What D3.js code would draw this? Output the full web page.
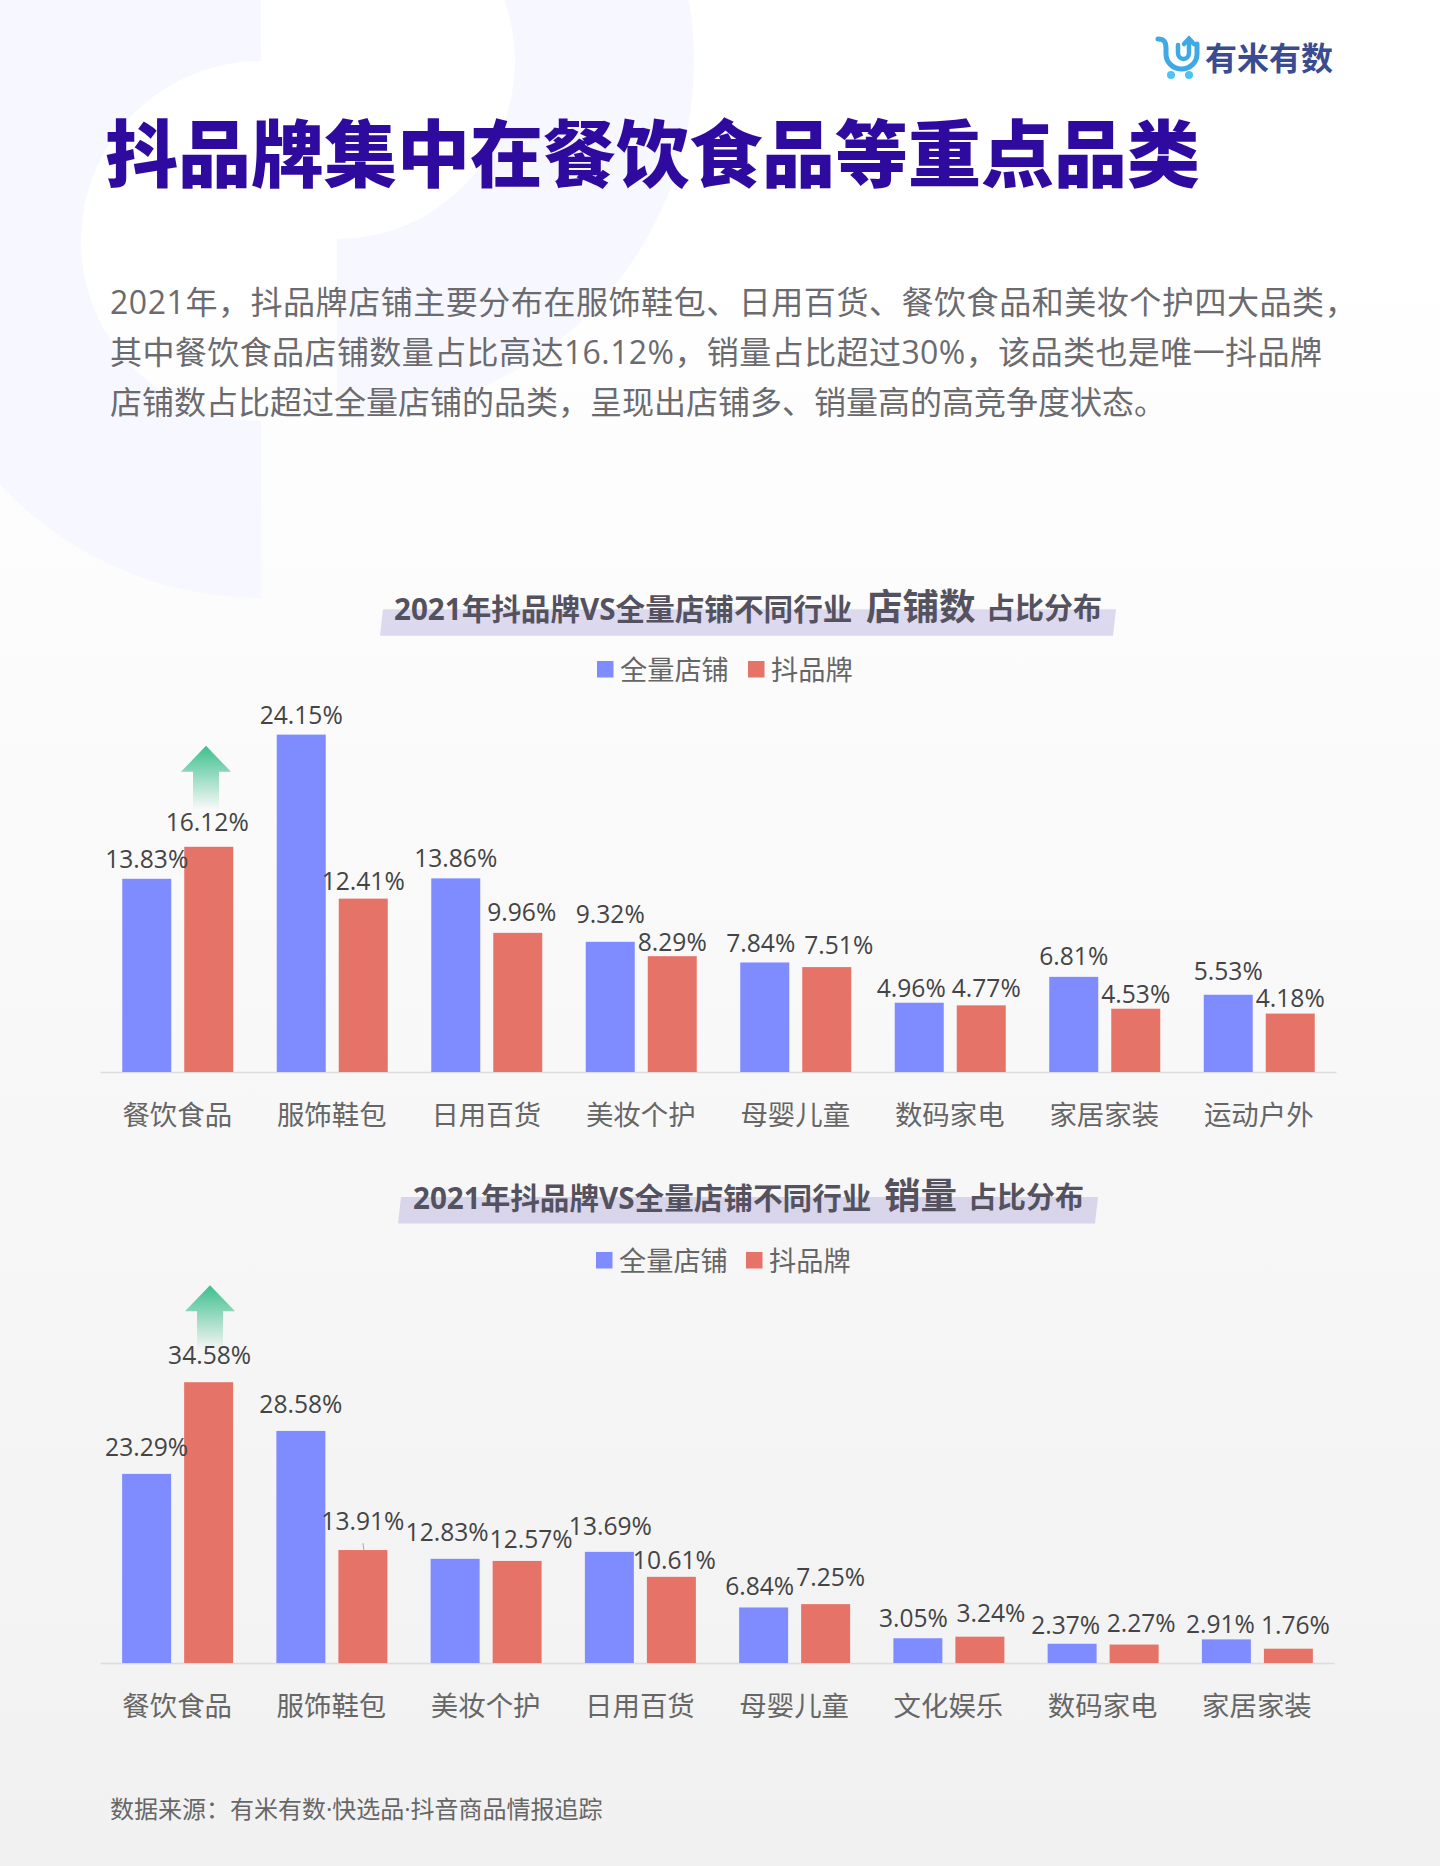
<!DOCTYPE html>
<html lang="zh-CN">
<head>
<meta charset="utf-8">
<title>抖品牌集中在餐饮食品等重点品类</title>
<script src="https://cdn.jsdelivr.net/npm/d3@7"></script>
<style>
  html, body { margin: 0; padding: 0; background: #fff; }
  svg { display: block; }
  text { font-family: "Open Sans", "Noto Sans CJK SC", sans-serif; }
</style>
</head>
<body>
<svg id="page" width="1440" height="1866"></svg>
<script>
// data
const seriesNames = ["全量店铺", "抖品牌"];

const storeCategories = ["餐饮食品", "服饰鞋包", "日用百货", "美妆个护", "母婴儿童", "数码家电", "家居家装", "运动户外"];
const storeAll = [13.83, 24.15, 13.86, 9.32, 7.84, 4.96, 6.81, 5.53];
const storeDouyin = [16.12, 12.41, 9.96, 8.29, 7.51, 4.77, 4.53, 4.18];

const salesCategories = ["餐饮食品", "服饰鞋包", "美妆个护", "日用百货", "母婴儿童", "文化娱乐", "数码家电", "家居家装"];
const salesAll = [23.29, 28.58, 12.83, 13.69, 6.84, 3.05, 2.37, 2.91];
const salesDouyin = [34.58, 13.91, 12.57, 10.61, 7.25, 3.24, 2.27, 1.76];

const bodyLines = [
  "2021年，抖品牌店铺主要分布在服饰鞋包、日用百货、餐饮食品和美妆个护四大品类，",
  "其中餐饮食品店铺数量占比高达16.12%，销量占比超过30%，该品类也是唯一抖品牌",
  "店铺数占比超过全量店铺的品类，呈现出店铺多、销量高的高竞争度状态。"
];
const bodySpacing = [0.55, 0.42, 0];

const colors = ["#7f8cff", "#e57368"];
const svg = d3.select("#page");
const defs = svg.append("defs");

// page background
const bg = defs.append("linearGradient").attr("id", "bg").attr("x1", 0).attr("x2", 0).attr("y1", 0).attr("y2", 1);
bg.append("stop").attr("offset", "0.12").attr("stop-color", "#ffffff");
bg.append("stop").attr("offset", "1").attr("stop-color", "#f1f1f1");
svg.append("rect").attr("width", 1440).attr("height", 1866).attr("fill", "url(#bg)");

// big pale half rings behind the title
svg.append("path")
  .attr("d", d3.arc().innerRadius(180).outerRadius(357)({ startAngle: Math.PI, endAngle: 2 * Math.PI }))
  .attr("transform", "translate(261,241)")
  .attr("fill", "#f7f8ff");
svg.append("path")
  .attr("d", d3.arc().innerRadius(178).outerRadius(357)({ startAngle: 0, endAngle: Math.PI }))
  .attr("transform", "translate(337,61)")
  .attr("fill", "#f7f8ff");

// logo
const logo = svg.append("g").attr("fill", "none").attr("stroke", "#3fa9e6").attr("stroke-width", 5).attr("stroke-linecap", "round");
logo.append("path").attr("d", "M1158 39 C1164 39 1166 42 1166 48 V54 A15.5 15 0 0 0 1197 54 V44");
logo.append("path").attr("d", "M1178 45 V53 A5.5 6 0 0 0 1189 53 V40 M1184 44 L1189 38.5 L1194 44").attr("stroke-width", 4.5);
logo.append("circle").attr("cx", 1171).attr("cy", 75).attr("r", 4).attr("fill", "#4cc4f2").attr("stroke", "none");
logo.append("circle").attr("cx", 1189).attr("cy", 75).attr("r", 4).attr("fill", "#4cc4f2").attr("stroke", "none");
svg.append("text").text("有米有数")
  .attr("x", 1205).attr("y", 59).attr("dy", "0.35em")
  .attr("font-size", 32).attr("font-weight", 700).attr("fill", "#3a4b8f");

// headline and intro
svg.append("text").text("抖品牌集中在餐饮食品等重点品类")
  .attr("x", 105).attr("y", 155).attr("dy", "0.36em")
  .attr("font-size", 73).attr("font-weight", 900).attr("fill", "#2f0a9e");

svg.selectAll("text.body").data(bodyLines).join("text")
  .attr("class", "body")
  .attr("x", 110)
  .attr("y", (d, i) => 302.5 + i * 50)
  .attr("dy", "0.36em")
  .attr("font-size", 32)
  .attr("letter-spacing", (d, i) => bodySpacing[i])
  .attr("fill", "#6b6b6f")
  .text(d => d);

// green "up" arrow, fades out towards the label below it
const arrowFade = defs.append("linearGradient").attr("id", "arrowFade").attr("x1", 0).attr("x2", 0).attr("y1", 0).attr("y2", 1);
arrowFade.append("stop").attr("offset", "0").attr("stop-color", "#3dbf8d");
arrowFade.append("stop").attr("offset", "1").attr("stop-color", "#3dbf8d").attr("stop-opacity", 0);

function drawChart(opts) {
  const g = svg.append("g");
  const keys = [0, 1];
  const values = [opts.all, opts.douyin];

  const x = d3.scaleBand().domain(opts.categories).range([100, opts.axisEnd]);
  const inner = d3.scaleBand().domain(keys).range([0, 111]).paddingInner(0.21);
  const xLeft = x.bandwidth() / 2 - 55;
  const y = d3.scaleLinear().domain([0, opts.yMax]).range([opts.baseline, opts.baseline - opts.pxPerUnit * opts.yMax]);

  // title strip + three title pieces
  const t = opts.title;
  g.append("path")
    .attr("d", d3.line()([[t.stripX0 + 3, t.stripTop], [t.stripX1 + 3, t.stripTop], [t.stripX1, t.stripTop + 26.5], [t.stripX0, t.stripTop + 26.5]]) + "Z")
    .attr("fill", "#6450be").attr("fill-opacity", 0.2);
  g.selectAll("text.ctitle").data(t.parts).join("text")
    .attr("class", "ctitle")
    .attr("x", d => d.x)
    .attr("y", d => d.big ? t.y - 2 : t.y)
    .attr("dy", "0.36em")
    .attr("font-size", d => d.size)
    .attr("font-weight", 700)
    .attr("fill", "#55525f")
    .text(d => d.s);

  // legend
  const lg = g.append("g").selectAll("g").data(seriesNames).join("g");
  lg.append("rect")
    .attr("x", (d, i) => opts.legendX[i])
    .attr("y", opts.legendY - 9)
    .attr("width", 16.5).attr("height", 16.5)
    .attr("fill", (d, i) => colors[i]);
  lg.append("text")
    .attr("x", (d, i) => opts.legendX[i] + 23)
    .attr("y", opts.legendY)
    .attr("dy", "0.36em")
    .attr("font-size", 27.2)
    .attr("fill", "#666")
    .text(d => d);

  // axis
  const axis = g.append("g")
    .attr("transform", `translate(0,${opts.baseline})`)
    .call(d3.axisBottom(x).tickSize(0));
  axis.select(".domain").attr("stroke", "#dcdce0").attr("stroke-width", 1.5);
  axis.selectAll("text")
    .attr("y", 43).attr("dy", "0.36em")
    .attr("font-size", 27.4)
    .attr("font-family", '"Open Sans", "Noto Sans CJK SC", sans-serif')
    .attr("fill", "#666");

  // bars
  keys.forEach(k => {
    g.append("g").selectAll("rect").data(values[k]).join("rect")
      .attr("x", (d, i) => x(opts.categories[i]) + xLeft + inner(k))
      .attr("y", d => y(d))
      .attr("width", inner.bandwidth())
      .attr("height", d => opts.baseline - y(d))
      .attr("fill", colors[k]);
  });

  // arrow above the top 抖品牌 bar of the first category
  const ax = opts.arrowX, tip = y(opts.douyin[0]) - opts.arrowLift;
  g.append("path")
    .attr("d", d3.line()([[ax, tip], [ax + 25, tip + 26], [ax + 13, tip + 26], [ax + 13, tip + 64], [ax - 13, tip + 64], [ax - 13, tip + 26], [ax - 25, tip + 26]]) + "Z")
    .attr("fill", "url(#arrowFade)");

  // value labels, hand nudged in the original so each gets its own lift / shift
  keys.forEach(k => {
    g.append("g").selectAll("text").data(values[k]).join("text")
      .attr("x", (d, i) => x(opts.categories[i]) + xLeft + inner(k) + inner.bandwidth() / 2 + opts.shift[k][i])
      .attr("y", (d, i) => y(d) - opts.lift[k][i])
      .attr("dy", "0.36em")
      .attr("text-anchor", "middle")
      .attr("font-size", 24.6)
      .attr("fill", "#444")
      .text(d => d.toFixed(2) + "%");
  });

  return { x, y, inner, xLeft, g };
}

drawChart({
  categories: storeCategories, all: storeAll, douyin: storeDouyin,
  baseline: 1072, pxPerUnit: 13.97, yMax: 30, axisEnd: 1336,
  title: {
    y: 609, stripX0: 380, stripX1: 1113, stripTop: 609.3,
    parts: [
      { s: "2021年抖品牌VS全量店铺不同行业", x: 394, size: 29.6 },
      { s: "店铺数", x: 866, size: 36.5, big: true },
      { s: "占比分布", x: 986, size: 29 }
    ]
  },
  legendX: [597, 748], legendY: 670,
  arrowX: 206, arrowLift: 101,
  lift: [
    [20, 19, 20.5, 27.5, 19, 15, 21, 24],
    [25, 17, 21, 14, 21.5, 17, 15, 15]
  ],
  shift: [
    [0, 0, 0, 0, -4, -8, 0, 0],
    [-1.5, 0, 4, 0, 12, 5, 0, 0]
  ]
});

const sales = drawChart({
  categories: salesCategories, all: salesAll, douyin: salesDouyin,
  baseline: 1663, pxPerUnit: 8.12, yMax: 40, axisEnd: 1334,
  title: {
    y: 1198, stripX0: 398, stripX1: 1095, stripTop: 1197,
    parts: [
      { s: "2021年抖品牌VS全量店铺不同行业", x: 413, size: 29.6 },
      { s: "销量", x: 884, size: 36.5, big: true },
      { s: "占比分布", x: 968, size: 29 }
    ]
  },
  legendX: [596, 746], legendY: 1261,
  arrowX: 210, arrowLift: 97,
  lift: [
    [27, 27, 27, 26, 21, 20.5, 19, 15],
    [27, 28.5, 22, 17, 26.5, 24, 21, 24]
  ],
  shift: [
    [0, 0, -8, 1, -4, -4.5, -6.5, -6],
    [1, 0, 14, 3, 5, 11, 7, 7]
  ]
});

// small leader line under the 13.91% label
const leadX = sales.x(salesCategories[1]) + sales.xLeft + sales.inner(1) + sales.inner.bandwidth() / 2;
sales.g.append("line")
  .attr("x1", leadX).attr("x2", leadX + 1)
  .attr("y1", sales.y(salesDouyin[1]) - 7).attr("y2", sales.y(salesDouyin[1]))
  .attr("stroke", "#aaa").attr("stroke-width", 1);

// source note
svg.append("text").text("数据来源：有米有数·快选品·抖音商品情报追踪")
  .attr("x", 110).attr("y", 1809).attr("dy", "0.36em")
  .attr("font-size", 24).attr("fill", "#666");
</script>
</body>
</html>
